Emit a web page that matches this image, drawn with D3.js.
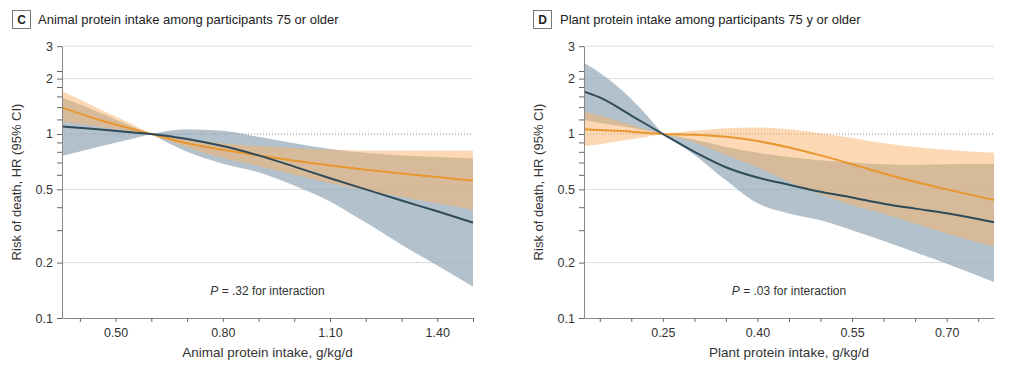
<!DOCTYPE html>
<html>
<head>
<meta charset="utf-8">
<script src="https://cdn.jsdelivr.net/npm/d3@7"></script>
<style>
  body { margin: 0; background: #fff; }
  svg text { font-family: "Liberation Sans", Arial, sans-serif; fill: #333; }
</style>
</head>
<body>
<svg id="chart"></svg>
<script>
// panel C: animal protein
const cX = [0.35, 0.45, 0.55, 0.6, 0.7, 0.8, 0.9, 1.0, 1.1, 1.2, 1.3, 1.4, 1.5];
const cDark = [1.10, 1.06, 1.02, 1.0, 0.94, 0.86, 0.765, 0.665, 0.575, 0.50, 0.435, 0.38, 0.33];
const cDarkLo = [0.76, 0.85, 0.945, 1.0, 0.80, 0.69, 0.62, 0.525, 0.43, 0.33, 0.25, 0.193, 0.148];
const cDarkHi = [1.58, 1.32, 1.09, 1.0, 1.06, 1.04, 0.965, 0.89, 0.83, 0.79, 0.765, 0.75, 0.738];
const cOrange = [1.39, 1.20, 1.06, 1.0, 0.89, 0.82, 0.765, 0.715, 0.675, 0.64, 0.61, 0.583, 0.557];
const cOrangeLo = [1.17, 1.10, 1.03, 1.0, 0.845, 0.74, 0.67, 0.60, 0.54, 0.495, 0.455, 0.42, 0.386];
const cOrangeHi = [1.71, 1.38, 1.12, 1.0, 0.94, 0.89, 0.86, 0.84, 0.82, 0.812, 0.81, 0.81, 0.81];

// panel D: plant protein
const dX = [0.125, 0.15, 0.2, 0.25, 0.3, 0.35, 0.4, 0.45, 0.5, 0.55, 0.6, 0.65, 0.7, 0.775];
const dDark = [1.70, 1.58, 1.26, 1.0, 0.80, 0.66, 0.58, 0.53, 0.485, 0.452, 0.418, 0.393, 0.371, 0.331];
const dDarkLo = [1.19, 1.15, 1.08, 1.0, 0.77, 0.56, 0.42, 0.37, 0.34, 0.30, 0.262, 0.228, 0.197, 0.157];
const dDarkHi = [2.44, 2.15, 1.55, 1.0, 0.93, 0.85, 0.79, 0.75, 0.72, 0.70, 0.685, 0.68, 0.685, 0.69];
const dOrange = [1.06, 1.05, 1.03, 1.0, 0.99, 0.965, 0.915, 0.845, 0.765, 0.685, 0.61, 0.55, 0.50, 0.438];
const dOrangeLo = [0.86, 0.88, 0.935, 1.0, 0.90, 0.77, 0.66, 0.55, 0.47, 0.41, 0.37, 0.325, 0.288, 0.244];
const dOrangeHi = [1.32, 1.26, 1.12, 1.0, 1.04, 1.075, 1.085, 1.06, 1.01, 0.95, 0.89, 0.85, 0.82, 0.79];

// axis ticks
const yTicks = [0.1, 0.2, 0.3, 0.4, 0.5, 0.6, 0.7, 0.8, 0.9, 1, 1.2, 1.4, 1.6, 1.8, 2, 2.2, 3];
const yLabels = [0.1, 0.2, 0.5, 1, 2, 3];
const yGrid = [0.2, 0.5, 2, 3];
const cTicks = [0.4, 0.5, 0.6, 0.7, 0.8, 0.9, 1.0, 1.1, 1.2, 1.3, 1.4, 1.5];
const cLabels = [0.5, 0.8, 1.1, 1.4];
const dTicks = [0.15, 0.2, 0.25, 0.3, 0.35, 0.4, 0.45, 0.5, 0.55, 0.6, 0.65, 0.7, 0.75];
const dLabels = [0.25, 0.4, 0.55, 0.7];

const w = 1024, h = 369;
const svg = d3.select("#chart").attr("width", w).attr("height", h);

const y = d3.scaleLog().domain([0.1, 3]).range([318, 46.2]);

const panels = [
  { letter: "C", title: "Animal protein intake among participants 75 or older",
    xlabel: "Animal protein intake, g/kg/d", p: ".32",
    xs: cX, ref: 0.6, domain: [0.35, 1.5], range: [62, 473],
    ticks: cTicks, labels: cLabels, boxX: 12.5, titleX: 38, ylabX: 21,
    dark: cDark, darkLo: cDarkLo, darkHi: cDarkHi,
    orange: cOrange, orangeLo: cOrangeLo, orangeHi: cOrangeHi },
  { letter: "D", title: "Plant protein intake among participants 75 y or older",
    xlabel: "Plant protein intake, g/kg/d", p: ".03",
    xs: dX, ref: 0.25, domain: [0.125, 0.775], range: [584, 994],
    ticks: dTicks, labels: dLabels, boxX: 533.5, titleX: 560, ylabX: 543,
    dark: dDark, darkLo: dDarkLo, darkHi: dDarkHi,
    orange: dOrange, orangeLo: dOrangeLo, orangeHi: dOrangeHi }
];

panels.forEach(p => {
  const x = d3.scaleLinear().domain(p.domain).range(p.range);
  const g = svg.append("g");
  const x0 = p.range[0], x1 = p.range[1];

  // title
  g.append("rect").attr("x", p.boxX).attr("y", 10.5).attr("width", 18).attr("height", 18)
    .attr("fill", "none").attr("stroke", "#777");
  g.append("text").attr("x", p.boxX + 9).attr("y", 24).attr("text-anchor", "middle")
    .style("font-size", "12px").style("font-weight", "bold").style("fill", "#222").text(p.letter);
  g.append("text").attr("x", p.titleX).attr("y", 24)
    .style("font-size", "13px").style("fill", "#222").text(p.title);

  // gridlines
  g.selectAll(".grid").data(yGrid).join("line")
    .attr("x1", x0).attr("x2", x1)
    .attr("y1", d => y(d)).attr("y2", d => y(d))
    .attr("stroke", "#dcdcdc").attr("stroke-width", 1);
  g.append("line").attr("x1", x0).attr("x2", x1).attr("y1", y(1)).attr("y2", y(1))
    .attr("stroke", "#888").attr("stroke-dasharray", "1,2");

  // bands, split at reference point
  const rows = p.xs.map((v, i) => ({
    x: v, dark: p.dark[i], darkLo: p.darkLo[i], darkHi: p.darkHi[i],
    orange: p.orange[i], orangeLo: p.orangeLo[i], orangeHi: p.orangeHi[i] }));
  const left = rows.filter(d => d.x <= p.ref);
  const right = rows.filter(d => d.x >= p.ref);

  const band = (lo, hi) => d3.area().x(d => x(d.x)).y0(d => y(d[lo])).y1(d => y(d[hi]))
    .curve(d3.curveMonotoneX);
  [left, right].forEach(part => {
    g.append("path").datum(part).attr("d", band("darkLo", "darkHi"))
      .attr("fill", "#8ea3b3").attr("opacity", 0.68);
  });
  [left, right].forEach(part => {
    g.append("path").datum(part).attr("d", band("orangeLo", "orangeHi"))
      .attr("fill", "#f9b46a").attr("opacity", 0.5);
  });

  const line = key => d3.line().x(d => x(d.x)).y(d => y(d[key])).curve(d3.curveMonotoneX);
  g.append("path").datum(rows).attr("d", line("orange"))
    .attr("fill", "none").attr("stroke", "#e8962e").attr("stroke-width", 2);
  g.append("path").datum(rows).attr("d", line("dark"))
    .attr("fill", "none").attr("stroke", "#2f4a58").attr("stroke-width", 2);

  // axes
  const xAxis = d3.axisBottom(x).tickValues(p.ticks).tickSize(4).tickSizeOuter(0).tickPadding(6)
    .tickFormat(d => p.labels.some(l => Math.abs(l - d) < 1e-9) ? d3.format(".2f")(d) : "");
  const gx = g.append("g").attr("transform", "translate(0,318)").call(xAxis);
  gx.select(".domain").attr("stroke", "#888");
  gx.selectAll(".tick line").attr("stroke", "#666");
  gx.selectAll("text").style("font-size", "12.5px").style("fill", "#333").style("font-family", null);

  const yAxis = d3.axisLeft(y).tickValues(yTicks).tickSize(5).tickSizeOuter(0).tickPadding(4)
    .tickFormat(d => yLabels.includes(d) ? String(d) : "");
  const gy = g.append("g").attr("transform", `translate(${x0},0)`).call(yAxis);
  gy.select(".domain").attr("stroke", "#888");
  gy.selectAll(".tick line").attr("stroke", "#666");
  gy.selectAll("text").style("font-size", "12.5px").style("fill", "#333").style("font-family", null);

  // labels
  g.append("text").attr("transform", `translate(${p.ylabX},182) rotate(-90)`)
    .attr("text-anchor", "middle").style("font-size", "13px").text("Risk of death, HR (95% CI)");
  g.append("text").attr("x", (x0 + x1) / 2).attr("y", 357).attr("text-anchor", "middle")
    .style("font-size", "13.5px").text(p.xlabel);

  const pt = g.append("text").attr("x", (x0 + x1) / 2).attr("y", 295).attr("text-anchor", "middle")
    .style("font-size", "12px");
  pt.append("tspan").style("font-style", "italic").text("P");
  pt.append("tspan").text(" = " + p.p + " for interaction");
});
</script>
</body>
</html>
